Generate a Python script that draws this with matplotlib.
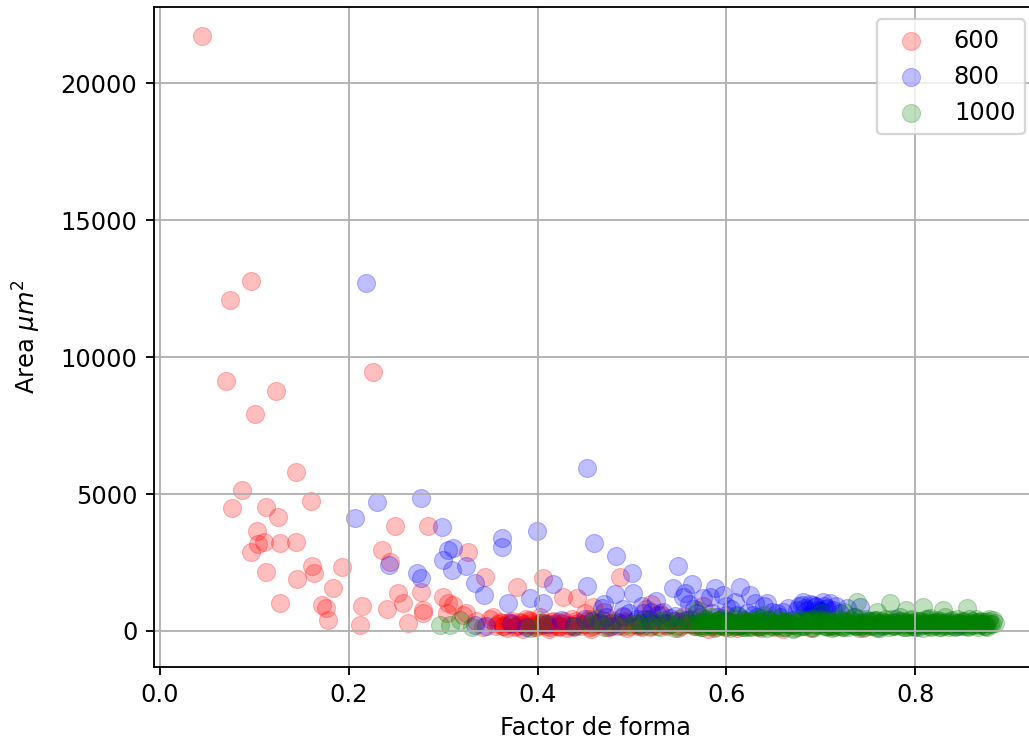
# Area vs factor de forma para tres temperaturas

import matplotlib
matplotlib.use('Agg')
import matplotlib.pyplot as plt

# 600
forma_600 = [0.044, 0.074, 0.096, 0.070, 0.101, 0.123, 0.226, 0.144, 0.087, 0.076,
             0.112, 0.125, 0.160, 0.103, 0.104, 0.110, 0.096, 0.127, 0.144, 0.112,
             0.145, 0.161, 0.163, 0.193, 0.183, 0.127, 0.172, 0.176, 0.178, 0.214,
             0.212, 0.249, 0.284, 0.235, 0.244, 0.252, 0.257, 0.240, 0.263, 0.276,
             0.279, 0.278, 0.300, 0.305, 0.326, 0.344, 0.378, 0.406, 0.310, 0.427,
             0.442, 0.459, 0.487, 0.304, 0.324,
             0.321, 0.335, 0.342, 0.350, 0.353, 0.356, 0.362, 0.368, 0.373, 0.379,
             0.384, 0.388, 0.393, 0.398, 0.402, 0.407, 0.412, 0.416, 0.421, 0.426,
             0.431, 0.436, 0.440, 0.446, 0.452, 0.457, 0.462, 0.468, 0.473, 0.479,
             0.484, 0.490, 0.495, 0.501, 0.507, 0.513, 0.519, 0.525, 0.531, 0.537,
             0.543, 0.549, 0.555, 0.561, 0.567, 0.573, 0.580, 0.586, 0.592, 0.598,
             0.604, 0.611, 0.618, 0.625, 0.633, 0.641, 0.650, 0.660, 0.672, 0.690,
             0.712, 0.745,
             0.470, 0.515, 0.530, 0.555, 0.575, 0.520, 0.600, 0.450,
             0.360, 0.372, 0.381, 0.395, 0.405, 0.414, 0.424,
             0.358, 0.364, 0.370, 0.376, 0.382, 0.387, 0.391, 0.396, 0.400, 0.404,
             0.409, 0.415, 0.419, 0.423, 0.428, 0.433, 0.438, 0.443, 0.449, 0.454,
             0.459, 0.465, 0.471, 0.476, 0.481, 0.487, 0.493, 0.498, 0.504, 0.510,
             0.516, 0.522, 0.528, 0.534, 0.540, 0.546, 0.552, 0.558, 0.564, 0.570,
             0.577, 0.583, 0.589, 0.595, 0.602, 0.608, 0.615, 0.622, 0.630, 0.638,
             0.363, 0.369, 0.377, 0.385, 0.392, 0.399, 0.406, 0.413, 0.420, 0.427,
             0.434, 0.441, 0.448, 0.455, 0.463, 0.478, 0.492, 0.506, 0.521, 0.536,
             0.551, 0.566, 0.581, 0.596, 0.612]
area_600 = [21718, 12080, 12775, 9125, 7920, 8760, 9450, 5800, 5150, 4490,
            4525, 4160, 4745, 3650, 3175, 3250, 2880, 3210, 3250, 2150,
            1900, 2370, 2120, 2335, 1570, 1020, 950, 840, 400, 910,
            220, 3830, 3830, 2960, 2520, 1390, 1020, 800, 290, 1420,
            770, 660, 1240, 1020, 2880, 1970, 1600, 1935, 950, 1240,
            1200, 875, 1970, 660, 660,
            580, 350, 150, 420, 510, 200, 280, 120, 380, 220,
            90, 450, 300, 160, 520, 250, 80, 380, 200, 300,
            120, 430, 260, 170, 350, 90, 240, 410, 150, 300,
            200, 500, 110, 330, 220, 420, 140, 280, 600, 190,
            350, 100, 260, 450, 170, 320, 80, 230, 400, 150,
            290, 110, 350, 200, 130, 270, 160, 90, 220, 120,
            180, 100,
            700, 800, 650, 550, 900, 1000, 600, 650,
            330, 250, 330, 230, 330, 260, 180,
            260, 180, 340, 150, 280, 210, 390, 130, 300, 230,
            170, 320, 260, 140, 380, 220, 160, 300, 240, 420,
            190, 330, 260, 140, 360, 230, 300, 180, 260, 150,
            340, 220, 180, 290, 240, 360, 200, 300, 250, 180,
            330, 270, 150, 220, 360, 200, 260, 310, 240, 190,
            200, 310, 170, 250, 360, 210, 280, 150, 330, 240,
            190, 350, 270, 160, 310, 240, 360, 190, 300, 220,
            330, 250, 180, 320, 230]

# 800
forma_800 = [0.218, 0.207, 0.230, 0.276, 0.299, 0.243, 0.272, 0.276, 0.300, 0.305,
             0.452, 0.362, 0.362, 0.399, 0.310, 0.309, 0.324, 0.334, 0.343, 0.369,
             0.392, 0.406, 0.416, 0.452, 0.460, 0.483, 0.500, 0.482, 0.501, 0.549,
             0.543, 0.563, 0.554, 0.583, 0.588, 0.468, 0.334, 0.556, 0.614, 0.596,
             0.625, 0.609, 0.643, 0.630, 0.622, 0.681, 0.692, 0.702, 0.710, 0.675,
             0.685, 0.699, 0.713, 0.728, 0.742,
             0.345, 0.372, 0.388, 0.410, 0.425, 0.438, 0.450, 0.466, 0.478, 0.490,
             0.505, 0.512, 0.520, 0.533, 0.540, 0.552, 0.566, 0.572, 0.585, 0.597,
             0.605, 0.617, 0.628, 0.638, 0.648, 0.657, 0.665, 0.670, 0.688, 0.695,
             0.705, 0.720, 0.735, 0.750, 0.765, 0.780, 0.800, 0.820, 0.845,
             0.458, 0.472, 0.486, 0.497, 0.508, 0.518, 0.527, 0.536, 0.546, 0.558,
             0.569, 0.579, 0.590, 0.600, 0.611, 0.620, 0.632, 0.645, 0.654, 0.662,
             0.677, 0.683, 0.689, 0.694, 0.697, 0.703, 0.707, 0.716, 0.680, 0.700,
             0.470, 0.510, 0.525, 0.560, 0.575, 0.600, 0.640, 0.660, 0.520, 0.490]
area_800 = [12700, 4125, 4710, 4855, 3800, 2410, 2120, 1935, 2590, 2960,
            5950, 3395, 3070, 3650, 3030, 2230, 2370, 1750, 1310, 1020,
            1200, 1020, 1715, 1640, 3210, 2740, 2120, 1350, 1390, 2370,
            1570, 1715, 1240, 1240, 1570, 840, 220, 1390, 1600, 1310,
            1310, 1060, 1020, 1020, 660, 1060, 950, 1060, 1020, 770,
            770, 690, 770, 840, 880,
            200, 300, 150, 250, 400, 180, 420, 300, 200, 550,
            420, 650, 300, 700, 480, 350, 800, 500, 650, 300,
            800, 450, 600, 350, 700, 500, 850, 400, 600, 900,
            800, 650, 500, 350, 200, 450, 150, 300, 200,
            350, 500, 300, 650, 250, 450, 600, 300, 550, 400,
            650, 300, 500, 350, 600, 250, 500, 400, 650, 300,
            900, 850, 1000, 870, 780, 930, 850, 900, 950, 720,
            1000, 900, 1100, 1000, 1200, 900, 900, 700, 700, 800]

# 1000
forma_1000 = [0.297, 0.307, 0.318, 0.330, 0.392, 0.405, 0.440, 0.470, 0.500, 0.520,
              0.535, 0.545, 0.558,
              0.569, 0.585, 0.738, 0.773, 0.808, 0.829, 0.855, 0.882, 0.875, 0.760,
              0.790, 0.700, 0.725, 0.640, 0.612, 0.595,
              0.570, 0.574, 0.578, 0.582, 0.587, 0.591, 0.595, 0.600, 0.604, 0.608,
              0.612, 0.617, 0.621, 0.626, 0.630, 0.634, 0.639, 0.643, 0.648, 0.652,
              0.657, 0.661, 0.665, 0.670, 0.674, 0.679, 0.683, 0.687, 0.692, 0.696,
              0.700, 0.704, 0.708, 0.712, 0.716, 0.720, 0.724, 0.728, 0.732, 0.736,
              0.740, 0.744, 0.748, 0.752, 0.756, 0.760, 0.764, 0.768, 0.772, 0.776,
              0.780, 0.784, 0.788, 0.792, 0.796, 0.800, 0.804, 0.808, 0.812, 0.816,
              0.820, 0.824, 0.828, 0.832, 0.836, 0.840, 0.844, 0.848, 0.852, 0.856,
              0.860, 0.864, 0.868, 0.872, 0.876, 0.879, 0.884,
              0.575, 0.589, 0.603, 0.619, 0.633, 0.646, 0.661, 0.676, 0.690, 0.703,
              0.718, 0.731, 0.745, 0.758, 0.771, 0.785, 0.798, 0.811, 0.825, 0.838,
              0.851, 0.866, 0.878, 0.712, 0.742, 0.782, 0.818, 0.794, 0.766, 0.738,
              0.706, 0.664, 0.624,
              0.560, 0.563, 0.566, 0.571, 0.573, 0.577, 0.580, 0.583, 0.586, 0.590,
              0.593, 0.597, 0.599, 0.602, 0.606, 0.609, 0.611, 0.614, 0.616, 0.620,
              0.623, 0.625, 0.628, 0.631, 0.635, 0.637, 0.641, 0.644, 0.647, 0.650,
              0.653, 0.655, 0.659, 0.662, 0.667, 0.669, 0.672, 0.675, 0.678, 0.681,
              0.685, 0.688, 0.691, 0.694, 0.698, 0.701, 0.705, 0.707, 0.710, 0.714,
              0.717, 0.719, 0.722, 0.726, 0.729, 0.733, 0.735, 0.739, 0.741, 0.746,
              0.749, 0.751, 0.754, 0.757, 0.761, 0.763, 0.767, 0.770, 0.774, 0.777,
              0.779, 0.783, 0.786, 0.789, 0.791, 0.795, 0.797, 0.801, 0.803, 0.806,
              0.809, 0.813, 0.815, 0.818, 0.821, 0.823, 0.827, 0.830, 0.833, 0.835,
              0.839, 0.842, 0.845, 0.847, 0.850, 0.853, 0.857, 0.859, 0.862, 0.866,
              0.869, 0.871, 0.874, 0.877, 0.881,
              0.605, 0.615, 0.627, 0.638, 0.649, 0.658, 0.668, 0.677, 0.686, 0.695,
              0.704, 0.713, 0.721, 0.730, 0.737, 0.747, 0.755, 0.762, 0.769, 0.778,
              0.787, 0.793, 0.799, 0.807, 0.814, 0.822, 0.829, 0.837, 0.843, 0.849,
              0.855, 0.861, 0.867, 0.873, 0.592, 0.581, 0.743, 0.775, 0.811, 0.826,
              0.455, 0.480, 0.510, 0.527, 0.540, 0.550, 0.515, 0.490, 0.462, 0.505,
              0.530, 0.548,
              0.618, 0.622, 0.629, 0.636, 0.642, 0.651, 0.656, 0.663, 0.671, 0.680,
              0.684, 0.693, 0.699, 0.709, 0.715, 0.723, 0.727, 0.734, 0.743, 0.750,
              0.753, 0.759, 0.765, 0.771, 0.776, 0.781, 0.788, 0.793, 0.798, 0.802,
              0.808, 0.812, 0.817, 0.822, 0.826, 0.831, 0.836, 0.841, 0.846, 0.851,
              0.856, 0.861, 0.865, 0.870, 0.874, 0.603, 0.596, 0.588, 0.579, 0.572]
area_1000 = [220, 220, 400, 150, 100, 300, 200, 150, 250, 180,
             400, 100, 300,
             770, 500, 1060, 1020, 880, 770, 840, 400, 330, 700,
             750, 650, 700, 600, 550, 480,
             300, 150, 420, 250, 120, 350, 200, 450, 100, 300,
             180, 400, 250, 130, 350, 200, 480, 120, 300, 220,
             400, 150, 320, 90, 250, 450, 180, 350, 120, 280,
             420, 200, 330, 100, 260, 450, 160, 350, 230, 500,
             120, 300, 420, 200, 350, 100, 280, 450, 160, 330,
             230, 520, 130, 300, 420, 200, 360, 110, 270, 480,
             180, 340, 230, 500, 140, 300, 420, 200, 350, 130,
             280, 450, 210, 330, 160, 260, 300,
             230, 380, 260, 150, 420, 240, 380, 150, 420, 300,
             180, 420, 220, 400, 290, 180, 330, 420, 140, 380,
             250, 320, 420, 350, 330, 380, 310, 240, 230, 180,
             150, 250, 330,
             260, 380, 190, 310, 140, 420, 240, 350, 170, 290,
             400, 220, 130, 340, 260, 440, 180, 300, 230, 370,
             150, 280, 410, 200, 330, 120, 250, 390, 170, 310,
             430, 210, 280, 160, 360, 240, 110, 320, 410, 190,
             270, 350, 140, 430, 230, 300, 180, 390, 250, 130,
             340, 410, 200, 280, 160, 370, 230, 310, 440, 140,
             260, 350, 190, 400, 280, 120, 330, 220, 450, 170,
             300, 240, 380, 150, 320, 410, 200, 270, 130, 360,
             250, 430, 180, 310, 220, 390, 140, 280, 340, 210,
             400, 160, 300, 250, 370, 190, 440, 230, 310, 150,
             350, 270, 200, 380, 240,
             300, 220, 330, 260, 200, 310, 240, 280, 350, 210,
             290, 230, 330, 260, 200, 300, 350, 240, 280, 210,
             320, 260, 200, 300, 240, 330, 270, 220, 300, 250,
             280, 210, 320, 260, 230, 280, 260, 300, 240, 280,
             250, 300, 200, 350, 250, 420, 380, 180, 420, 300,
             150, 200,
             150, 320, 240, 180, 380, 270, 140, 330, 220, 170,
             300, 250, 370, 190, 280, 150, 340, 260, 180, 310,
             230, 140, 360, 270, 190, 330, 240, 160, 290, 380,
             210, 320, 150, 270, 350, 200, 310, 170, 260, 330,
             190, 360, 240, 290, 200, 170, 330, 250, 360, 210]

plt.rcParams['font.size'] = 10.5

fig = plt.figure(figsize=(1029 / 165, 742 / 165), dpi=165)
ax = fig.add_axes([153.5 / 1029, 1 - 667 / 742, 883.5 / 1029, 660 / 742])

ax.scatter(forma_600, area_600, s=62, c='r', alpha=0.25, linewidths=0.5, label='600')
ax.scatter(forma_800, area_800, s=62, c='b', alpha=0.25, linewidths=0.5, label='800')
ax.scatter(forma_1000, area_1000, s=62, c='g', alpha=0.25, linewidths=0.5, label='1000')

ax.set_xlim(-0.007, 0.929)
ax.set_ylim(-1314, 22776)
ax.set_xticks([0.0, 0.2, 0.4, 0.6, 0.8])
ax.set_yticks([0, 5000, 10000, 15000, 20000])
ax.grid(True)
ax.set_xlabel('Factor de forma')
ax.set_ylabel(r'Area $\mu m^2$', labelpad=7.5)
ax.legend(loc='upper right')

fig.savefig('out.png', dpi=165)
